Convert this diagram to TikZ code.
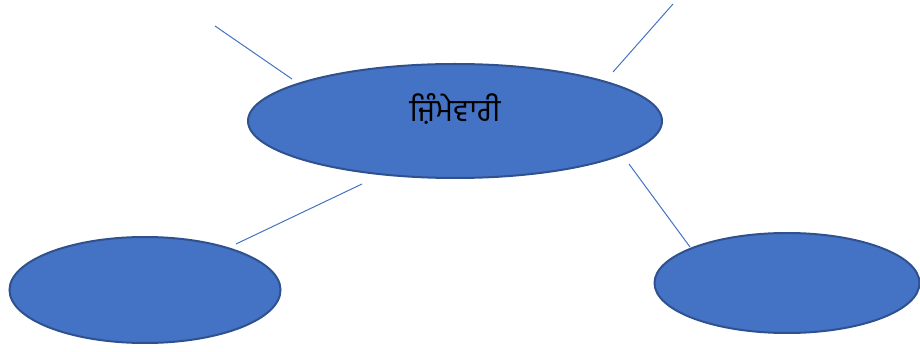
\documentclass[tikz,border=0pt]{standalone}
\usepackage{fontspec}
\usepackage{xcolor}
\usepackage{tikz}
\usetikzlibrary{shapes.geometric, positioning, calc}
\newfontfamily\gurmukhifont[Script=Gurmukhi]{Hind Jalandhar}
\definecolor{bubblefill}{HTML}{4472C4}
\definecolor{bubbleedge}{HTML}{2F528F}

\begin{document}
\begin{tikzpicture}[
    x=1pt, y=-1pt,
    bubble/.style={ellipse, draw=bubbleedge, fill=bubblefill, line width=2pt, inner sep=0pt},
    spoke/.style={draw=bubblefill, line width=1pt}
]
    \useasboundingbox (0,0) rectangle (920,352);
    \node[bubble, minimum width=414pt, minimum height=114pt] (resp) at (455,121) {};
    \node[font=\gurmukhifont\fontsize{31}{35}\selectfont, text=black] (resplabel) at ([yshift=12pt]resp.center) {ਜ਼ਿੰਮੇਵਾਰੀ};
    \node[bubble, minimum width=271pt, minimum height=106pt] (left) at (145,290) {};
    \node[bubble, minimum width=265pt, minimum height=100pt] (right) at (787,283) {};

    \coordinate (ulA) at (215,26);  \coordinate (ulB) at (292,79);
    \coordinate (urA) at (673,4);   \coordinate (urB) at (613,72);
    \coordinate (blA) at (362,184); \coordinate (blB) at (236,244);
    \coordinate (brA) at (629,164); \coordinate (brB) at (690,247);

    \draw[spoke] (ulA) -- (ulB);
    \draw[spoke] (urA) -- (urB);
    \draw[spoke] (blA) -- (blB);
    \draw[spoke] (brA) -- (brB);
\end{tikzpicture}
\end{document}
